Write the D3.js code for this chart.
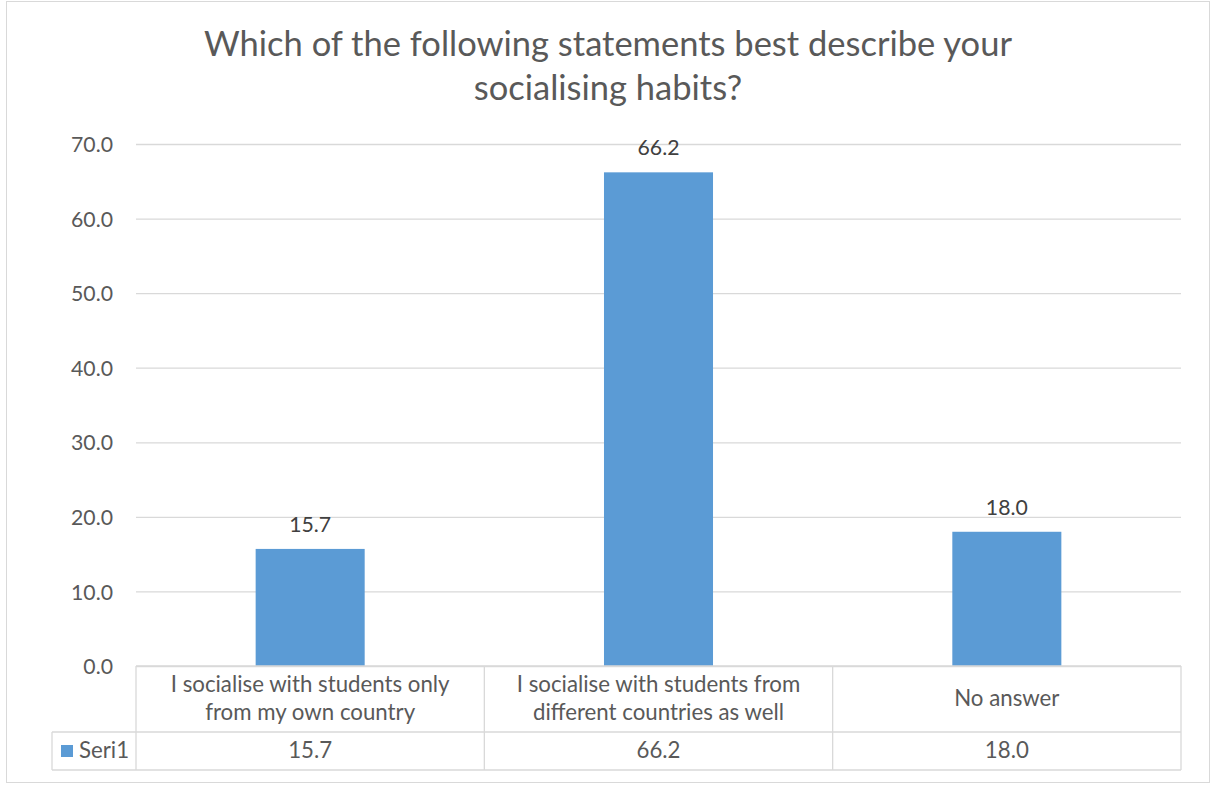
<!DOCTYPE html>
<html>
<head>
<meta charset="utf-8">
<script src="https://cdn.jsdelivr.net/npm/d3@7"></script>
<style>
  html, body { margin: 0; padding: 0; background: #ffffff; }
  svg { display: block; }
</style>
</head>
<body>
<svg id="chart" width="1214" height="785"></svg>
<script>
// ---- data ----
const titleLines = ["Which of the following statements best describe your", "socialising habits?"];
const categories = ["cat1", "cat2", "cat3"];
const categoryLabels = [
  ["I socialise with students only", "from my own country"],
  ["I socialise with students from", "different countries as well"],
  ["No answer"]
];
const seriesName = "Seri1";
const values = [15.7, 66.2, 18.0];
const yTicks = [0, 10, 20, 30, 40, 50, 60, 70];

// ---- layout ----
const W = 1214, H = 785;
const plot = { left: 136, right: 1181, top: 144, bottom: 666 };
const rowSplit = 732, tableBottom = 770, legendLeft = 52;
const FONT = "Lato, 'Open Sans', 'Liberation Sans', sans-serif";
const TXT = "#595959", LBL = "#404040", GRID = "#d9d9d9", BAR = "#5B9BD5";

const svg = d3.select("#chart");

svg.append("rect")
  .attr("x", 6.5).attr("y", 1.5).attr("width", 1203).attr("height", 781)
  .attr("fill", "#fff").attr("stroke", GRID).attr("stroke-width", 1);

const y = d3.scaleLinear().domain([0, 70]).range([plot.bottom, plot.top]);
const xCol = d3.scaleBand().domain(categories).range([plot.left, plot.right]).padding(0);
const xBar = d3.scaleBand().domain(categories).range([plot.left, plot.right])
  .paddingInner(0.687).paddingOuter(0.3435);

function fitSize(text, target, base) {
  const t = svg.append("text").attr("font-family", FONT).attr("font-size", base).text(text);
  const w = t.node().getComputedTextLength();
  t.remove();
  return base * target / w;
}

// fonts sized to match reference text widths
const titleSize = fitSize(titleLines[0], 808, 30);
const axisSize = fitSize("70.0", 42, 20);
const tableSize = fitSize(categoryLabels[0][0], 279, 20);

// title
svg.append("g").selectAll("text").data(titleLines).join("text")
  .attr("x", 608).attr("y", (d, i) => 56 + i * 44)
  .attr("text-anchor", "middle")
  .attr("font-family", FONT).attr("font-size", titleSize)
  .attr("fill", TXT).text(d => d);

// y axis with gridlines
const yAxis = svg.append("g")
  .attr("transform", `translate(${plot.left},0)`)
  .call(d3.axisLeft(y).tickValues(yTicks).tickFormat(d3.format(".1f"))
    .tickSize(-(plot.right - plot.left)).tickPadding(23));
yAxis.select(".domain").remove();
yAxis.selectAll(".tick line").attr("stroke", GRID).attr("stroke-width", 1.3);
yAxis.selectAll(".tick text")
  .attr("font-family", FONT).attr("font-size", axisSize)
  .attr("fill", TXT).attr("dy", "0.36em");

// bars
svg.append("g").selectAll("rect").data(values).join("rect")
  .attr("x", (d, i) => xBar(categories[i]))
  .attr("width", xBar.bandwidth())
  .attr("y", d => y(d))
  .attr("height", d => y(0) - y(d))
  .attr("fill", BAR);

// data labels
svg.append("g").selectAll("text").data(values).join("text")
  .attr("x", (d, i) => xBar(categories[i]) + xBar.bandwidth() / 2)
  .attr("y", d => y(d) - 17)
  .attr("text-anchor", "middle")
  .attr("font-family", FONT).attr("font-size", axisSize)
  .attr("fill", LBL).text(d => d3.format(".1f")(d));

// data table
const tbl = svg.append("g").attr("stroke", GRID).attr("stroke-width", 1.3);
tbl.append("line").attr("x1", plot.left).attr("x2", plot.right).attr("y1", plot.bottom).attr("y2", plot.bottom);
tbl.append("line").attr("x1", legendLeft).attr("x2", plot.right).attr("y1", rowSplit).attr("y2", rowSplit);
tbl.append("line").attr("x1", legendLeft).attr("x2", plot.right).attr("y1", tableBottom).attr("y2", tableBottom);
tbl.append("line").attr("x1", legendLeft).attr("x2", legendLeft).attr("y1", rowSplit).attr("y2", tableBottom);
const colEdges = categories.map(c => xCol(c)).concat([plot.right]);
tbl.selectAll(".v").data(colEdges).join("line").attr("class", "v")
  .attr("x1", d => d).attr("x2", d => d)
  .attr("y1", plot.bottom).attr("y2", tableBottom);

// category labels
const catG = svg.append("g");
categoryLabels.forEach((lines, i) => {
  const cx = xCol(categories[i]) + xCol.bandwidth() / 2;
  const ys = lines.length === 2 ? [692, 720] : [706];
  catG.selectAll(null).data(lines).join("text")
    .attr("x", cx).attr("y", (d, j) => ys[j])
    .attr("text-anchor", "middle")
    .attr("font-family", FONT).attr("font-size", tableSize)
    .attr("fill", TXT).text(d => d);
});

// value row
svg.append("g").selectAll("text").data(values).join("text")
  .attr("x", (d, i) => xCol(categories[i]) + xCol.bandwidth() / 2)
  .attr("y", 758)
  .attr("text-anchor", "middle")
  .attr("font-family", FONT).attr("font-size", tableSize)
  .attr("fill", TXT).text(d => d3.format(".1f")(d));

// legend key
svg.append("rect").attr("x", 61).attr("y", 745).attr("width", 12).attr("height", 12).attr("fill", BAR);
svg.append("text").attr("x", 79).attr("y", 758)
  .attr("font-family", FONT).attr("font-size", tableSize)
  .attr("fill", TXT).text(seriesName);
</script>
</body>
</html>
